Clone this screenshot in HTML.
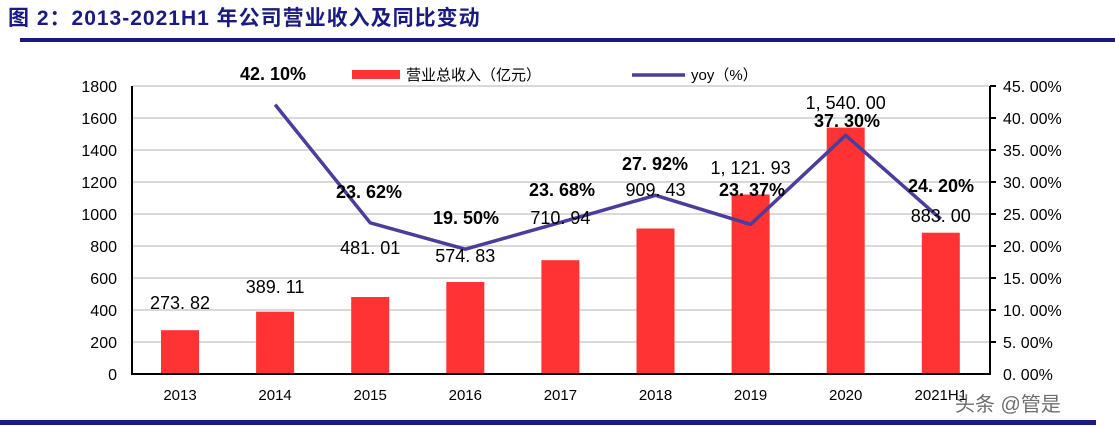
<!DOCTYPE html>
<html><head><meta charset="utf-8"><style>
html,body{margin:0;padding:0;background:#fff;}
svg{display:block;}
</style></head><body>
<svg width="1115" height="427" xmlns="http://www.w3.org/2000/svg" font-family="'Liberation Sans','Noto Sans CJK SC',sans-serif">
<text x="8" y="25" font-size="21" font-weight="bold" fill="#1a1a80" letter-spacing="1">图 2：2013-2021H1 年公司营业收入及同比变动</text>
<rect x="20" y="38" width="1095" height="4" fill="#1a1a80"/>
<g stroke="#d9d9d9" stroke-width="2">
<line x1="132" y1="86" x2="990" y2="86"/><line x1="132" y1="118" x2="990" y2="118"/>
<line x1="132" y1="150" x2="990" y2="150"/><line x1="132" y1="182" x2="990" y2="182"/>
<line x1="132" y1="214" x2="990" y2="214"/><line x1="132" y1="246" x2="990" y2="246"/>
<line x1="132" y1="278" x2="990" y2="278"/><line x1="132" y1="310" x2="990" y2="310"/>
<line x1="132" y1="342" x2="990" y2="342"/>
</g>
<g fill="#ff3333">
<rect x="161" y="330.2" width="38" height="43.8"/>
<rect x="256.1" y="311.7" width="38" height="62.3"/>
<rect x="351.2" y="297" width="38" height="77"/>
<rect x="446.3" y="282" width="38" height="92"/>
<rect x="541.4" y="260.2" width="38" height="113.8"/>
<rect x="636.5" y="228.5" width="38" height="145.5"/>
<rect x="731.6" y="194.5" width="38" height="179.5"/>
<rect x="826.7" y="127.6" width="38" height="246.4"/>
<rect x="921.8" y="232.7" width="38" height="141.3"/>
</g>
<g stroke="#000" stroke-width="2" fill="none">
<polyline points="132,86 132,374 990,374 990,86"/>
<line x1="990" y1="86" x2="996" y2="86"/><line x1="990" y1="118" x2="996" y2="118"/>
<line x1="990" y1="150" x2="996" y2="150"/><line x1="990" y1="182" x2="996" y2="182"/>
<line x1="990" y1="214" x2="996" y2="214"/><line x1="990" y1="246" x2="996" y2="246"/>
<line x1="990" y1="278" x2="996" y2="278"/><line x1="990" y1="310" x2="996" y2="310"/>
<line x1="990" y1="342" x2="996" y2="342"/>
</g>
<polyline points="275.1,104.6 370.2,222.8 465.3,249.2 560.4,222.4 655.5,195.3 750.6,224.4 845.7,135.3 940.8,219.1" fill="none" stroke="#4a3d9c" stroke-width="3.5" stroke-linejoin="round"/>
<g font-size="16" fill="#000" text-anchor="end">
<text x="117" y="92">1800</text><text x="117" y="124">1600</text><text x="117" y="156">1400</text>
<text x="117" y="188">1200</text><text x="117" y="220">1000</text><text x="117" y="252">800</text>
<text x="117" y="284">600</text><text x="117" y="316">400</text><text x="117" y="348">200</text>
<text x="117" y="380">0</text>
</g>
<g font-size="16" fill="#000">
<text x="1003" y="92">45. 00%</text><text x="1003" y="124">40. 00%</text><text x="1003" y="156">35. 00%</text>
<text x="1003" y="188">30. 00%</text><text x="1003" y="220">25. 00%</text><text x="1003" y="252">20. 00%</text>
<text x="1003" y="284">15. 00%</text><text x="1003" y="316">10. 00%</text><text x="1003" y="348">5. 00%</text>
<text x="1003" y="380">0. 00%</text>
</g>
<g font-size="15" fill="#000" text-anchor="middle">
<text x="180" y="400">2013</text><text x="275.1" y="400">2014</text><text x="370.2" y="400">2015</text>
<text x="465.3" y="400">2016</text><text x="560.4" y="400">2017</text><text x="655.5" y="400">2018</text>
<text x="750.6" y="400">2019</text><text x="845.7" y="400">2020</text><text x="940.8" y="400">2021H1</text>
</g>
<g font-size="18" fill="#000" text-anchor="middle">
<text x="180" y="309">273. 82</text><text x="275.1" y="293">389. 11</text><text x="370.2" y="254">481. 01</text>
<text x="465.3" y="262">574. 83</text><text x="560.4" y="224">710. 94</text><text x="655.5" y="196">909. 43</text>
<text x="750.6" y="174">1, 121. 93</text><text x="845.7" y="109">1, 540. 00</text><text x="940.8" y="222">883. 00</text>
</g>
<g font-size="18" font-weight="bold" fill="#000" text-anchor="middle">
<text x="273" y="80">42. 10%</text><text x="369" y="198">23. 62%</text><text x="466" y="224">19. 50%</text>
<text x="562" y="196">23. 68%</text><text x="655" y="170">27. 92%</text><text x="752" y="196">23. 37%</text>
<text x="847" y="127">37. 30%</text><text x="941" y="192">24. 20%</text>
</g>
<rect x="352" y="70" width="48" height="9" fill="#ff3333"/>
<text x="406" y="80" font-size="15" fill="#000">营业总收入（亿元）</text>
<line x1="632" y1="75" x2="685" y2="75" stroke="#4a3d9c" stroke-width="3.5"/>
<text x="691" y="80" font-size="15" fill="#000">yoy（%）</text>
<text x="955" y="411" font-size="20" fill="#555" opacity="0.85">头条 @管是</text>
<rect x="0" y="420" width="1096" height="5" fill="#1a1a80"/>
</svg>
</body></html>
